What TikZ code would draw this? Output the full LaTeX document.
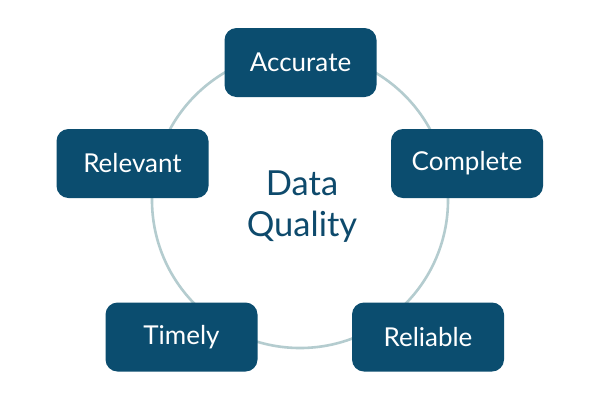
\documentclass[tikz,border=0pt]{standalone}
\usepackage{fontspec}
\setmainfont{Lato}
\definecolor{boxblue}{HTML}{0B4D6F}
\definecolor{ringcol}{HTML}{B4CCCF}
\definecolor{titleblue}{HTML}{0E4A6C}
\begin{document}
\begin{tikzpicture}[x=1pt,y=-1pt,
  qbox/.style={fill=boxblue, rounded corners=12pt, minimum width=152pt, minimum height=69pt,
    text=white, font=\fontsize{26}{29}\selectfont, inner sep=0pt},
  ring/.style={draw=ringcol, line width=2.6pt}]
\fill[white] (0,0) rectangle (600,400);
\useasboundingbox (0,0) rectangle (600,400);
\coordinate (c) at (300,200);
\draw[ring] (c) circle[radius=148pt];
\node[qbox] (acc) at (300.5,62.5) {Accurate};
\node[qbox] (com) at (467,163.5) {Complete};
\node[qbox] (rel) at (132.5,163.5) {Relevant};
\node[qbox] (tim) at (181.5,337) {Timely};
\node[qbox] (rlb) at (428,337) {Reliable};
\node[text=titleblue, font=\fontsize{34.5}{41}\selectfont, align=center] (dq) at (302,207) {Data\\Quality};
\end{tikzpicture}
\end{document}
